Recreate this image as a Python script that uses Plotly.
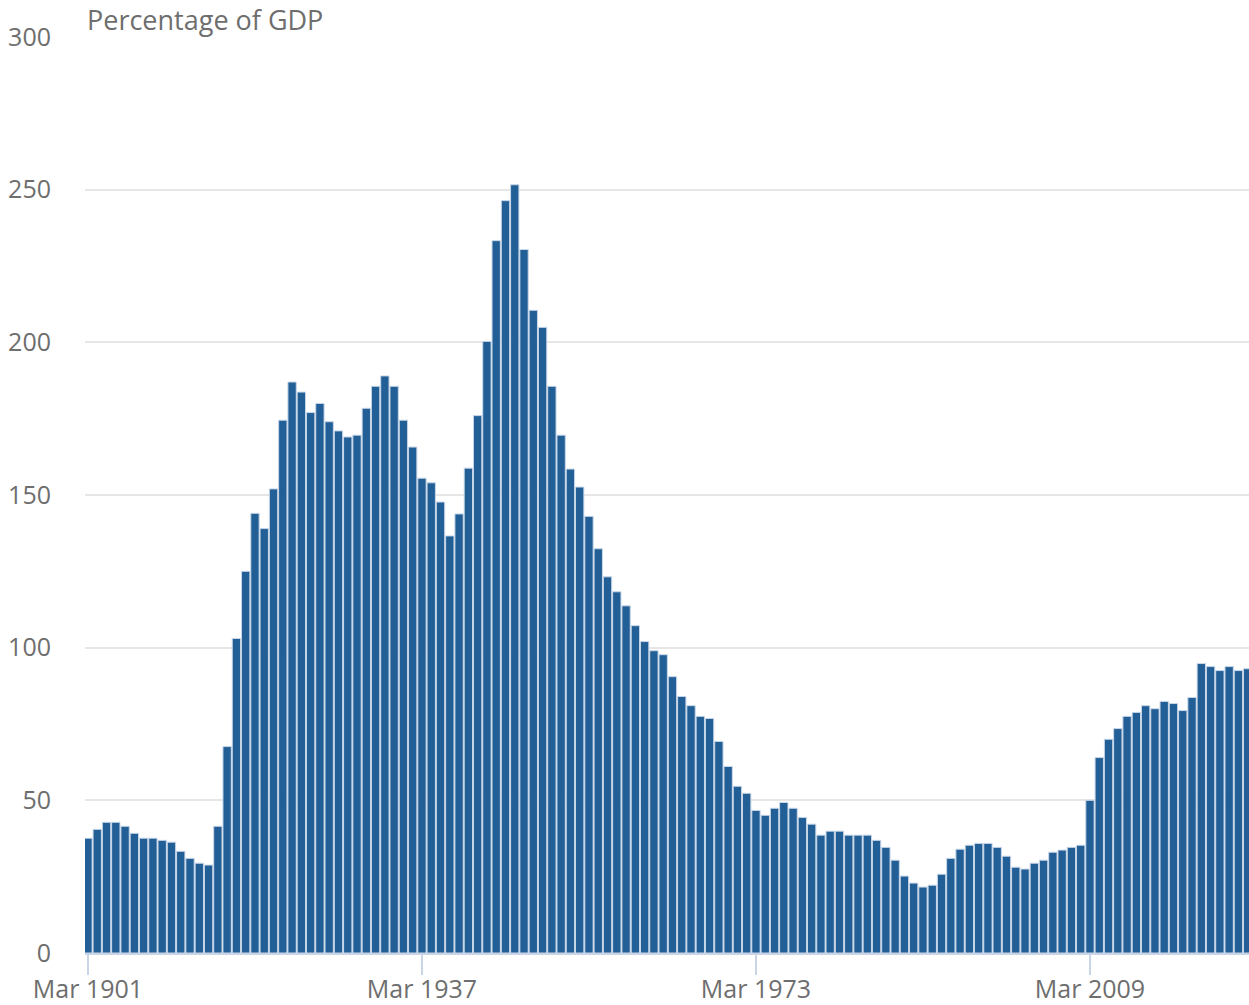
import plotly.graph_objects as go

# Anos fiscais (Mar) e dívida pública em % do PIB
anos = list(range(1901, 2027))
divida = [
    37.6, 40.5, 42.8, 42.8, 41.5, 39.2, 37.6, 37.6, 36.9, 36.3,
    33.3, 31.0, 29.4, 28.8, 41.5, 67.6, 103.0, 125.0, 144.0, 139.0,
    152.0, 174.5, 187.0, 183.7, 177.0, 180.0, 174.0, 171.0, 169.0, 169.6,
    178.4, 185.6, 189.0, 185.6, 174.5, 165.7, 155.5, 154.0, 147.7, 136.6,
    143.8, 158.8, 176.0, 200.3, 233.3, 246.4, 251.6, 230.4, 210.5, 204.9,
    185.6, 169.6, 158.5, 152.6, 143.0, 132.4, 123.2, 118.3, 113.7, 107.2,
    102.0, 99.0, 97.7, 90.5, 84.0, 81.0, 77.5, 76.8, 69.3, 61.1,
    54.6, 52.3, 46.7, 45.1, 47.4, 49.3, 47.4, 44.4, 42.2, 38.6,
    39.9, 39.9, 38.6, 38.6, 38.6, 36.9, 34.6, 30.4, 25.2, 22.9,
    21.6, 22.2, 25.8, 31.0, 34.0, 35.3, 35.9, 35.9, 34.6, 31.7,
    28.1, 27.5, 29.4, 30.4, 33.0, 33.7, 34.6, 35.3, 50.0, 64.0,
    70.0, 73.5, 77.5, 78.8, 81.0, 80.0, 82.4, 81.7, 79.4, 83.7,
    94.8, 93.8, 92.5, 93.8, 92.5, 93.1,
]
x_ticks = [1901, 1937, 1973, 2009]
x_labels = ["Mar 1901", "Mar 1937", "Mar 1973", "Mar 2009"]
y_ticks = [0, 50, 100, 150, 200, 250, 300]

cinza = "#6e6e6e"

barras = go.Bar(
    x=anos, y=divida,
    marker=dict(color="#235f97", line=dict(color="#c9d7e8", width=1)),
    hoverinfo="x+y",
)

fig = go.Figure(data=[barras])
fig.update_layout(
    width=1249, height=1005,
    margin=dict(l=85, r=0, t=37, b=48),
    paper_bgcolor="white", plot_bgcolor="white",
    bargap=0.1, showlegend=False,
    font=dict(family="Open Sans", size=25, color=cinza),
)
fig.update_xaxes(
    range=[1900.68, 2026.14],
    tickvals=x_ticks, ticktext=x_labels,
    showgrid=False, zeroline=False,
    showline=True, linecolor="#c9d5e6", linewidth=2,
    ticks="outside", ticklen=20, tickwidth=2, tickcolor="#c9d5e6",
    ticklabelstandoff=-7,
    tickfont=dict(size=25, color=cinza),
)
fig.update_yaxes(
    range=[0, 300], tickvals=y_ticks,
    showgrid=True, gridcolor="#e6e6e6", gridwidth=2,
    zeroline=False, showline=False,
    ticklabelstandoff=33,
    tickfont=dict(size=25, color=cinza),
)
fig.add_annotation(
    text="Percentage of GDP", xref="paper", yref="paper",
    x=0, y=1, xanchor="left", yanchor="bottom", yshift=-3,
    showarrow=False, font=dict(size=27, color=cinza),
)

# tirar a margem do body para o gráfico ocupar a janela toda
fig.write_html("out.html", config={"displayModeBar": False},
               post_script="document.body.style.margin='0';")
